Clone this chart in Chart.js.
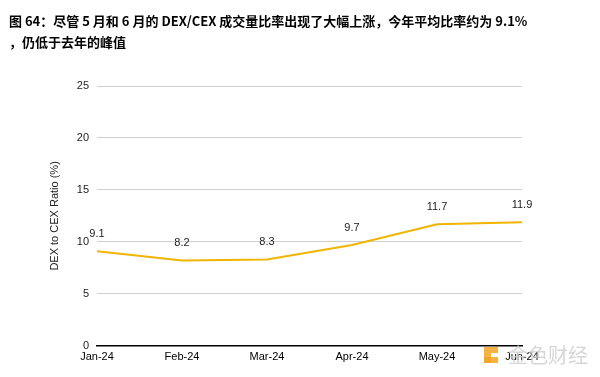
<!DOCTYPE html>
<html>
<head>
<meta charset="utf-8">
<script src="https://cdn.jsdelivr.net/npm/chart.js@4.4.1/dist/chart.umd.min.js"></script>
<style>
  html, body { margin: 0; padding: 0; background: #fff; }
  #wrap { width: 600px; height: 377px; position: relative; }
</style>
</head>
<body>
<div id="wrap"><canvas id="ratioChart" width="600" height="377"></canvas></div>
<script>
var months = ['Jan-24', 'Feb-24', 'Mar-24', 'Apr-24', 'May-24', 'Jun-24'];
var ratios = [9.1, 8.2, 8.3, 9.7, 11.7, 11.9];
var yTicks = [0, 5, 10, 15, 20, 25];
var titleLines = ['图 64：尽管 5 月和 6 月的 DEX/CEX 成交量比率出现了大幅上涨，今年平均比率约为 9.1%', '，仍低于去年的峰值'];

// title + value labels + watermark drawn on the canvas
var extras = {
    id: 'extras',
    afterDraw: function(chart) {
        var c = chart.ctx;
        c.save();
        c.fillStyle = '#000';
        c.font = 'bold 13px "Noto Sans CJK SC", "Noto Sans", sans-serif';
        c.textBaseline = 'middle';
        c.textAlign = 'left';
        c.fillText(titleLines[0], 9, 21);
        c.fillText(titleLines[1], 9, 42);

        var meta = chart.getDatasetMeta(0);
        c.font = '11px "Liberation Sans", Arial, sans-serif';
        c.fillStyle = '#222';
        c.textAlign = 'center';
        c.textBaseline = 'bottom';
        meta.data.forEach(function(pt, i) {
            c.fillText(ratios[i].toFixed(1), pt.x, pt.y - 12);
        });

        // watermark
        c.globalAlpha = 0.85;
        c.fillStyle = '#f5a623';
        c.fillRect(484, 347, 7, 16);
        c.fillRect(484, 357, 14, 6);
        c.fillRect(491, 347, 7, 6);
        c.fillStyle = '#cfcfcf';
        c.font = '20px "Noto Sans CJK SC", sans-serif';
        c.textAlign = 'left';
        c.textBaseline = 'middle';
        c.fillText('金色财经', 508, 355);
        c.restore();
    }
};

const ctx = document.getElementById('ratioChart').getContext('2d');

const chart = new Chart(ctx, {
    type: 'line',
    data: {
        labels: months,
        datasets: [{
            label: 'DEX to CEX Ratio (%)',
            data: ratios,
            borderColor: '#F1B500',
            backgroundColor: '#F1B500',
            borderWidth: 2,
            pointRadius: 0,
            tension: 0
        }]
    },
    plugins: [extras],
    options: {
        responsive: false,
        animation: false,
        layout: { padding: { top: 86, right: 78, left: 48, bottom: 8 } },
        plugins: {
            legend: { display: false },
            tooltip: { enabled: false }
        },
        scales: {
            x: {
                offset: false,
                grid: { display: false, drawTicks: false },
                border: { color: '#000', width: 1.5 },
                ticks: {
                    color: '#000',
                    padding: 5,
                    maxRotation: 0,
                    font: { family: '"Liberation Sans", Arial, sans-serif', size: 11 }
                }
            },
            y: {
                min: 0,
                max: 25,
                afterBuildTicks: function(scale) {
                    scale.ticks = yTicks.map(function(v) { return { value: v }; });
                },
                afterFit: function(scale) { scale.width = 49; },
                grid: { color: '#d0d0d0', drawTicks: false },
                border: { display: false },
                ticks: {
                    color: '#222',
                    padding: 8,
                    font: { family: '"Liberation Sans", Arial, sans-serif', size: 11 }
                },
                title: {
                    display: true,
                    text: 'DEX to CEX Ratio (%)',
                    color: '#222',
                    padding: { top: 0, bottom: 14 },
                    font: { family: '"Liberation Sans", Arial, sans-serif', size: 11 }
                }
            }
        }
    }
});
</script>
</body>
</html>
